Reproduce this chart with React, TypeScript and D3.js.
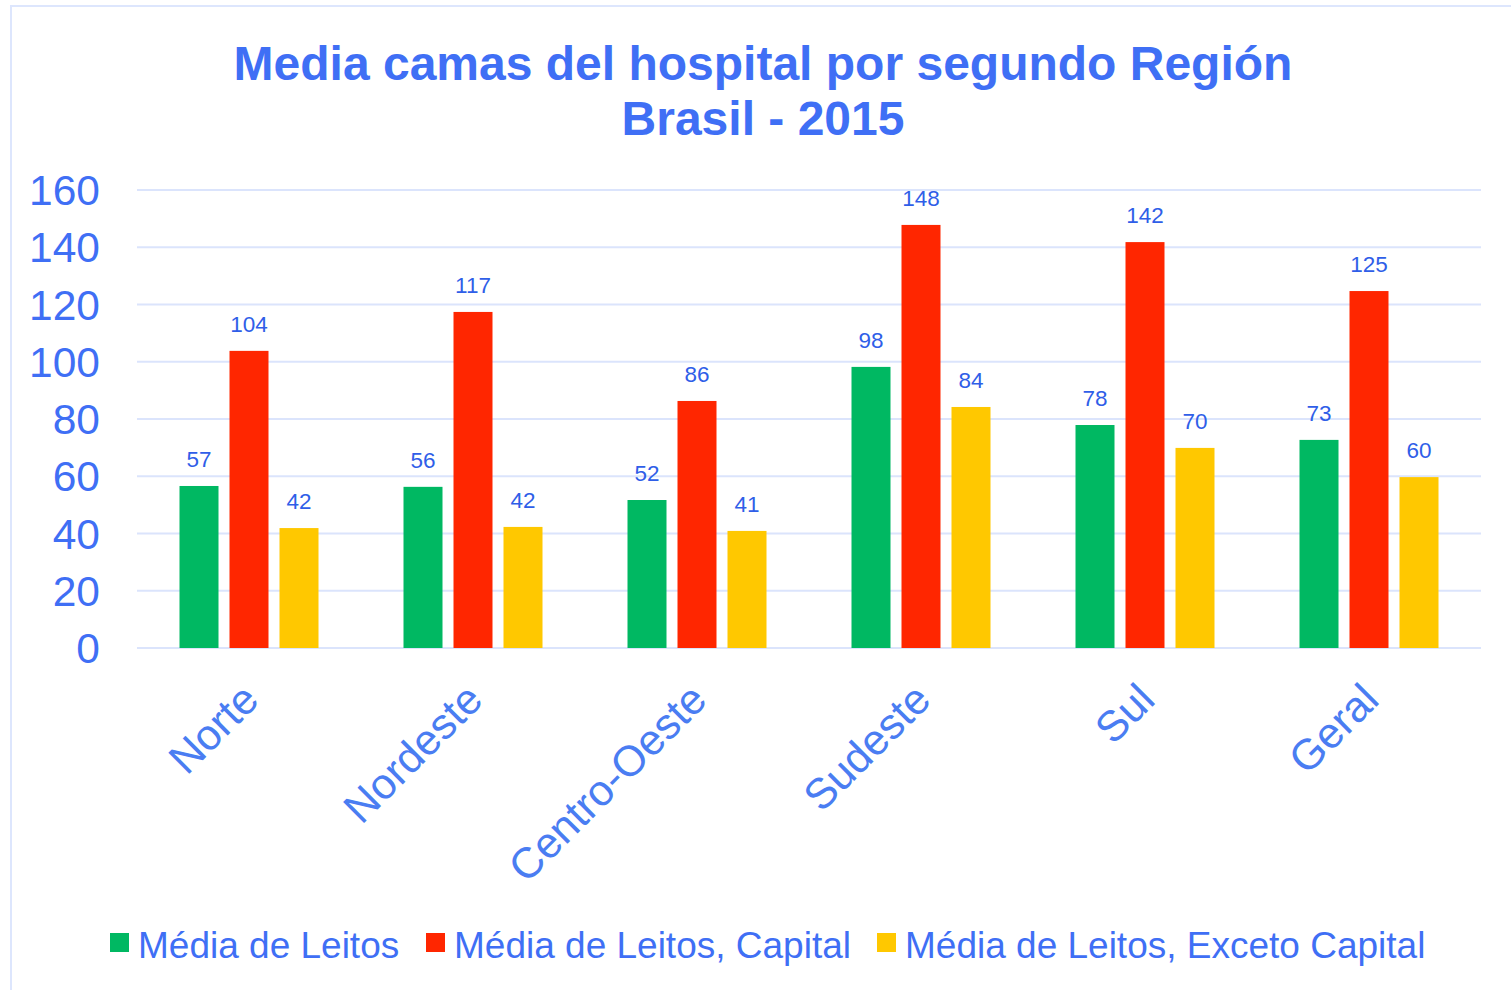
import React from "react";
import * as d3 from "d3";

const categories = ["Norte", "Nordeste", "Centro-Oeste", "Sudeste", "Sul", "Geral"];
const seriesNames = ["Média de Leitos", "Média de Leitos, Capital", "Média de Leitos, Exceto Capital"];
const mediaLeitos = [56.6, 56.3, 51.7, 98.2, 77.9, 72.7];
const mediaCapital = [103.8, 117.4, 86.3, 147.8, 141.8, 124.7];
const mediaExceto = [41.9, 42.3, 40.9, 84.2, 69.9, 59.7];
const yTicks = [0, 20, 40, 60, 80, 100, 120, 140, 160];
const colors = ["#00b862", "#ff2600", "#ffc800"];
const titleLines = ["Media camas del hospital por segundo Región", "Brasil - 2015"];

const W = 1511;
const H = 990;
const font = "'Liberation Sans', Arial, sans-serif";
const blue = "#3f6ff5";

export default function App() {
  const series = [mediaLeitos, mediaCapital, mediaExceto];
  const x = d3.scaleBand<string>().domain(categories).range([137, 1481]).paddingInner(0).paddingOuter(0);
  const y = d3.scaleLinear().domain([0, 160]).range([648, 190]);
  const groupW = 139;
  const inner = d3.scaleBand<number>().domain([0, 1, 2]).range([0, groupW]).paddingInner(0.22).paddingOuter(0);
  const fmt = d3.format(".0f");

  const legendX = [110, 426, 877];

  return (
    <div style={{ position: "absolute", left: 0, top: 0, margin: 0 }}>
      <svg width={W} height={H} style={{ display: "block", background: "#fff" }}>
        <rect x={11} y={6} width={W + 10} height={H + 10} fill="#fff" stroke="#dde6fd" strokeWidth={2} />
        {titleLines.map((t, i) => (
          <text key={i} x={763} y={80 + i * 55} textAnchor="middle" fontFamily={font} fontWeight="bold" fontSize={48} fill={blue}>
            {t}
          </text>
        ))}
        {yTicks.map((t) => (
          <g key={t}>
            <line x1={137} x2={1481} y1={y(t)} y2={y(t)} stroke="#dbe4fc" strokeWidth={2} />
            <text x={100} y={y(t) + 15} textAnchor="end" fontFamily={font} fontSize={42.5} fill={blue}>
              {t}
            </text>
          </g>
        ))}
        {categories.map((c, ci) => {
          const gx = (x(c) as number) + (x.bandwidth() - groupW) / 2;
          return (
            <g key={c}>
              {series.map((s, si) => {
                const bx = gx + (inner(si) as number);
                const bw = inner.bandwidth();
                const v = s[ci];
                return (
                  <g key={si}>
                    <rect x={bx} y={y(v)} width={bw} height={y(0) - y(v)} fill={colors[si]} />
                    <text x={bx + bw / 2} y={y(v) - 19} textAnchor="middle" fontFamily={font} fontSize={22.5} fill="#2f5ee8">
                      {fmt(v)}
                    </text>
                  </g>
                );
              })}
              <text
                transform={`translate(${(x(c) as number) + x.bandwidth() / 2 + 12},${702}) rotate(-45)`}
                textAnchor="end"
                fontFamily={font}
                fontSize={43}
                fill="#4a7df2"
              >
                {c}
              </text>
            </g>
          );
        })}
        {seriesNames.map((n, i) => (
          <g key={n}>
            <rect x={legendX[i]} y={933} width={19} height={19} fill={colors[i]} />
            <text x={legendX[i] + 28} y={958} fontFamily={font} fontSize={37} fill={blue}>
              {n}
            </text>
          </g>
        ))}
      </svg>
    </div>
  );
}
